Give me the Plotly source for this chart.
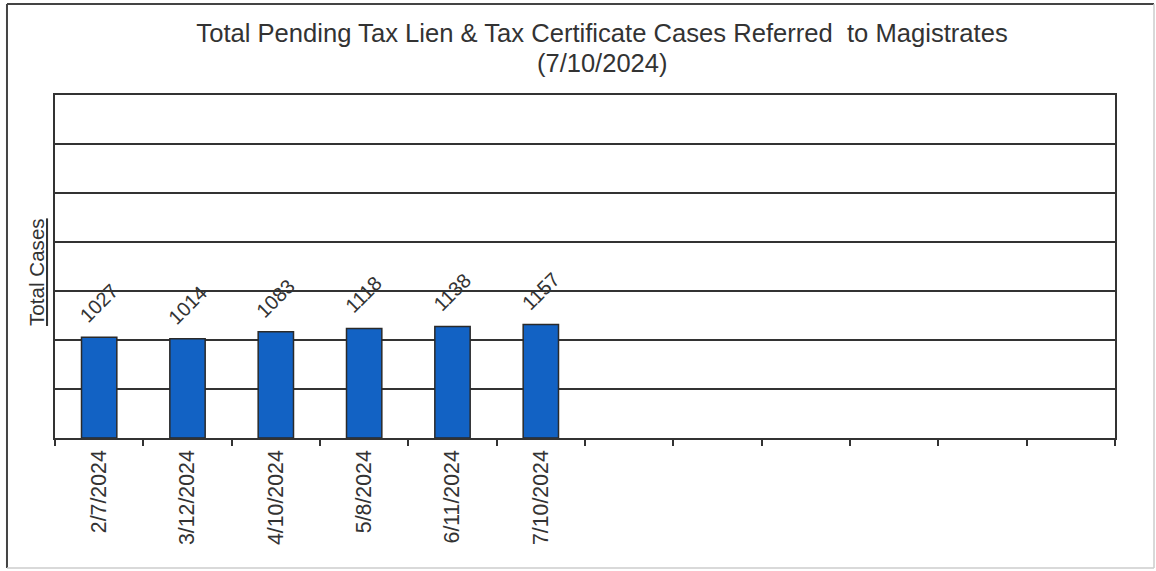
import plotly.graph_objects as go

dates = ["2/7/2024", "3/12/2024", "4/10/2024", "5/8/2024", "6/11/2024", "7/10/2024"]
cases = [1027, 1014, 1083, 1118, 1138, 1157]
n_slots = 12
title_line1 = "Total Pending Tax Lien &amp; Tax Certificate Cases Referred  to Magistrates"
title_line2 = "(7/10/2024)"
y_title = "Total Cases"

FONT = "Liberation Sans, Arial, sans-serif"
INK = "#333333"
BLUE = "#1262C4"

xs = list(range(len(dates)))

fig = go.Figure()
fig.add_trace(go.Bar(
    x=xs, y=cases, width=0.4,
    marker=dict(color=BLUE, line=dict(color="#2a2a2a", width=1.5)),
    hoverinfo="skip", showlegend=False,
))

for xi, v in zip(xs, cases):
    fig.add_annotation(
        x=xi, y=v, text=str(v), showarrow=False, textangle=-45,
        xanchor="center", yanchor="middle", yshift=34,
        font=dict(family=FONT, size=20, color=INK),
    )

fig.add_annotation(
    xref="paper", yref="paper", x=-0.017, y=0.484, text=f"<u>{y_title}</u>",
    showarrow=False, textangle=-90, xanchor="center", yanchor="middle",
    font=dict(family=FONT, size=20.6, color=INK),
)

fig.add_annotation(
    xref="paper", yref="paper", x=0.516, y=1.0933, text=title_line2,
    showarrow=False, xanchor="center", yanchor="middle",
    font=dict(family=FONT, size=25.5, color=INK),
)

# outer frame
fx0, fx1, fy0, fy1 = -0.0453, 1.0368, -0.379, 1.2653
fig.add_shape(type="line", xref="paper", yref="paper", x0=fx0, x1=fx0, y0=fy0, y1=fy1,
              line=dict(color="#444444", width=2))
fig.add_shape(type="line", xref="paper", yref="paper", x0=fx0, x1=fx1, y0=fy1, y1=fy1,
              line=dict(color="#444444", width=2))
fig.add_shape(type="line", xref="paper", yref="paper", x0=fx1, x1=fx1, y0=fy0, y1=fy1,
              line=dict(color="#cccccc", width=1.5))
fig.add_shape(type="line", xref="paper", yref="paper", x0=fx0, x1=fx1, y0=fy0, y1=fy0,
              line=dict(color="#cccccc", width=1.5))

fig.update_layout(
    width=1156, height=571,
    margin=dict(l=55, r=41, t=95, b=133),
    paper_bgcolor="white", plot_bgcolor="white",
    title=dict(text=title_line1, x=0.5208, xanchor="center", y=0.9422, yanchor="middle",
               font=dict(family=FONT, size=25.6, color=INK)),
    font=dict(family=FONT, color=INK),
    xaxis=dict(
        range=[-0.5, n_slots - 0.5], tickmode="array", tickvals=xs, ticktext=dates,
        tickangle=-90, ticks="", ticklen=0, ticklabelstandoff=2,
        tickfont=dict(family=FONT, size=21.3, color=INK),
        showline=True, linecolor=INK, linewidth=1.5, mirror=True,
        showgrid=False, zeroline=False,
        minor=dict(tickmode="linear", tick0=-0.5, dtick=1, ticks="outside", ticklen=6,
                   tickcolor=INK, tickwidth=1.5, showgrid=False),
    ),
    yaxis=dict(
        range=[0, 3500], tickmode="linear", tick0=0, dtick=500,
        showticklabels=False, ticks="",
        showgrid=True, gridcolor=INK, gridwidth=1.5,
        showline=True, linecolor=INK, linewidth=1.5, mirror=True,
        zeroline=False,
    ),
    bargap=0.6,
)

fig.write_html("out.html", config={"displayModeBar": False},
               post_script="document.body.style.margin='0';")
